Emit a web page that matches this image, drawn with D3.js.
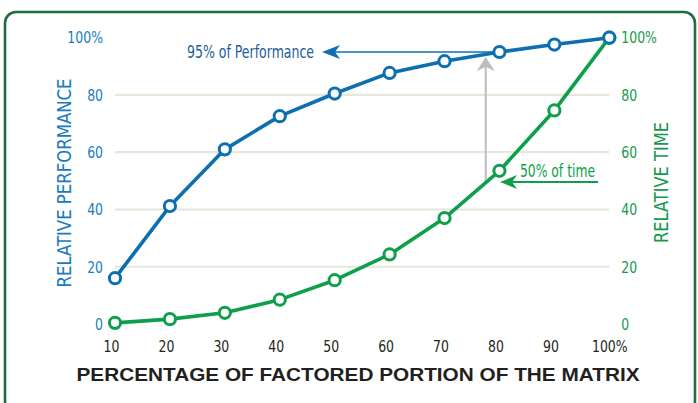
<!DOCTYPE html>
<html><head><meta charset="utf-8">
<script src="https://cdn.jsdelivr.net/npm/d3@7"></script>
<style>
html,body{margin:0;padding:0;background:#fff;}
.cond{font-family:"Liberation Sans Narrow","DejaVu Sans Condensed","Roboto Condensed",sans-serif;font-stretch:condensed;}
</style></head>
<body>
<svg id="chart" width="698" height="403"></svg>
<script>
const xValues = [10, 20, 30, 40, 50, 60, 70, 80, 90, 100];
const xTickLabels = ["10","20","30","40","50","60","70","80","90","100%"];
const performance = [16, 41.2, 61, 72.6, 80.5, 87.7, 91.8, 95, 97.6, 100];
const time = [0.4, 1.7, 3.9, 8.5, 15.3, 24.3, 37, 53.5, 74.6, 100];
const yTicks = [0, 20, 40, 60, 80, 100];
const yTickLabels = ["0","20","40","60","80","100%"];
const gridValues = [20, 40, 60, 80];
const xTitle = "PERCENTAGE OF FACTORED PORTION OF THE MATRIX";
const yLeftTitle = "RELATIVE PERFORMANCE";
const yRightTitle = "RELATIVE TIME";
const perfNote = "95% of Performance";
const timeNote = "50% of time";

const BLUE = "#0b6fb1", GREEN = "#0e9f4b", GRID = "#e6e6da";
const svg = d3.select("#chart");
const x = d3.scaleLinear().domain([10, 100]).range([115, 609.3]);
const y = d3.scaleLinear().domain([0, 100]).range([324, 37.7]);

function narrow(sel, f) {
  sel.each(function () {
    const w = this.getComputedTextLength();
    d3.select(this).attr("textLength", w * f).attr("lengthAdjust", "spacingAndGlyphs");
  });
}

// border
svg.append("rect").attr("x", 5).attr("y", 12).attr("width", 690).attr("height", 400)
  .attr("rx", 11).attr("fill", "none").attr("stroke", "#1d6e3d").attr("stroke-width", 2.6);

// gridlines
svg.append("g").selectAll("line").data(gridValues).join("line")
  .attr("x1", x(10)).attr("x2", x(100)).attr("y1", d => y(d)).attr("y2", d => y(d))
  .attr("stroke", GRID).attr("stroke-width", 2.2);

// left axis
const leftAxis = d3.axisLeft(y).tickValues(yTicks).tickSize(0).tickPadding(12)
  .tickFormat((d, i) => yTickLabels[i]);
const gl = svg.append("g").attr("transform", `translate(${x(10)},0)`).call(leftAxis);
gl.select(".domain").remove();
gl.selectAll("text").attr("class", "cond").attr("font-size", 16.5).attr("fill", "#1a7bbf").call(narrow, 0.84);

// right axis
const rightAxis = d3.axisRight(y).tickValues(yTicks).tickSize(0).tickPadding(12)
  .tickFormat((d, i) => yTickLabels[i]);
const gr = svg.append("g").attr("transform", `translate(${x(100)},0)`).call(rightAxis);
gr.select(".domain").remove();
gr.selectAll("text").attr("class", "cond").attr("font-size", 16.5).attr("fill", "#159a4b").call(narrow, 0.84);

// bottom axis
const bottomAxis = d3.axisBottom(x).tickValues(xValues).tickSize(0).tickPadding(0)
  .tickFormat((d, i) => xTickLabels[i]);
const gb = svg.append("g").attr("transform", `translate(0,${y(0) + 16})`).call(bottomAxis);
gb.select(".domain").remove();
gb.selectAll("text").attr("class", "cond").attr("font-size", 16.5).attr("fill", "#231f20")
  .attr("dy", "0.7em").attr("dx", (d, i) => i === xValues.length - 1 ? 0 : -4).call(narrow, 0.84);

// titles
svg.append("text").attr("x", 358).attr("y", 381).attr("text-anchor", "middle")
  .attr("font-family", "Liberation Sans, Arial, sans-serif").attr("font-weight", "bold")
  .attr("font-size", 18).attr("fill", "#231f20")
  .attr("textLength", 563).attr("lengthAdjust", "spacingAndGlyphs").text(xTitle);
svg.append("text").attr("class", "cond")
  .attr("transform", `translate(70.5,${183}) rotate(-90)`).attr("text-anchor", "middle")
  .attr("font-size", 19).attr("fill", "#1a7bbf")
  .attr("textLength", 209).attr("lengthAdjust", "spacingAndGlyphs").text(yLeftTitle);
svg.append("text").attr("class", "cond")
  .attr("transform", `translate(668,${182.5}) rotate(-90)`).attr("text-anchor", "middle")
  .attr("font-size", 19).attr("fill", "#159a4b")
  .attr("textLength", 121).attr("lengthAdjust", "spacingAndGlyphs").text(yRightTitle);

// annotations
// blue horizontal arrow
svg.append("line").attr("x1", x(80)).attr("x2", 330).attr("y1", y(95)).attr("y2", y(95))
  .attr("stroke", BLUE).attr("stroke-width", 1.3);
svg.append("path")
  .attr("d", `M${322},${y(95)} L${340},${y(95) - 7} L${335},${y(95)} L${340},${y(95) + 7} Z`)
  .attr("fill", BLUE);
svg.append("text").attr("class", "cond").attr("x", 187).attr("y", 57.5)
  .attr("font-size", 17).attr("fill", "#1b5d9c")
  .attr("textLength", 127).attr("lengthAdjust", "spacingAndGlyphs")
  .text(perfNote);

// gray vertical arrow
const gx = x(77.5);
svg.append("line").attr("x1", gx).attr("x2", gx).attr("y1", y(49)).attr("y2", y(95) + 10)
  .attr("stroke", "#bdbdbd").attr("stroke-width", 2);
svg.append("path")
  .attr("d", `M${gx},${y(95) + 5} L${gx + 9},${y(95) + 19} L${gx},${y(95) + 15} L${gx - 9},${y(95) + 19} Z`)
  .attr("fill", "#bdbdbd");

// lines
const line = d3.line().x((d, i) => x(xValues[i])).y(d => y(d));
svg.append("path").datum(time).attr("d", line).attr("fill", "none")
  .attr("stroke", GREEN).attr("stroke-width", 3.6).attr("stroke-linejoin", "round");
svg.append("path").datum(performance).attr("d", line).attr("fill", "none")
  .attr("stroke", BLUE).attr("stroke-width", 3.6).attr("stroke-linejoin", "round");

svg.append("g").selectAll("circle").data(time).join("circle")
  .attr("cx", (d, i) => x(xValues[i])).attr("cy", d => y(d)).attr("r", 5.6)
  .attr("fill", "#fff").attr("stroke", GREEN).attr("stroke-width", 3);
svg.append("g").selectAll("circle").data(performance).join("circle")
  .attr("cx", (d, i) => x(xValues[i])).attr("cy", d => y(d)).attr("r", 5.6)
  .attr("fill", "#fff").attr("stroke", BLUE).attr("stroke-width", 3);

// green arrow
const gy = 182;
svg.append("line").attr("x1", 598).attr("x2", 510).attr("y1", gy).attr("y2", gy)
  .attr("stroke", GREEN).attr("stroke-width", 2);
svg.append("path")
  .attr("d", `M${500},${gy} L${517},${gy - 7} L${512},${gy} L${517},${gy + 7} Z`)
  .attr("fill", GREEN);
svg.append("text").attr("class", "cond").attr("x", 520).attr("y", 177)
  .attr("font-size", 17).attr("fill", GREEN)
  .attr("textLength", 75).attr("lengthAdjust", "spacingAndGlyphs").text(timeNote);
</script>
</body></html>
